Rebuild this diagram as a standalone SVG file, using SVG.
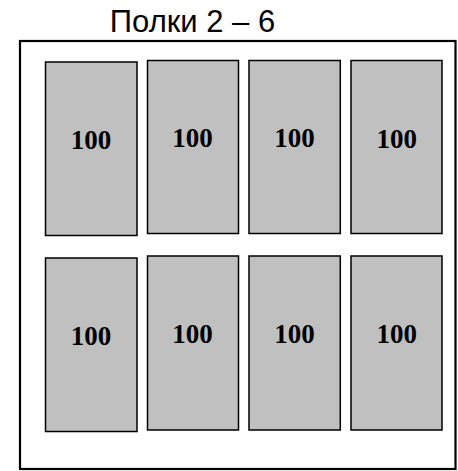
<svg xmlns="http://www.w3.org/2000/svg" width="458" height="471" viewBox="0 0 458 471">
<style>
.frame{fill:#fff;stroke:#000;stroke-width:2.2}
.box{fill:#c0c0c0;stroke:#000;stroke-width:1.5}
.num{font-family:"Liberation Serif",serif;font-weight:bold;font-size:27px;text-anchor:middle;fill:#000}
.title{font-family:"Liberation Sans",sans-serif;font-size:31px;text-anchor:middle;fill:#000}
</style>
<rect width="458" height="471" fill="#fff"/>
<text class="title" x="192.5" y="31.5">Полки 2 – 6</text>
<rect class="frame" x="20" y="41" width="435.5" height="428"/>
<g id="r1c1"><rect class="box" x="45.5" y="62" width="91.5" height="173.5"/><text class="num" x="91" y="148.5">100</text></g>
<g id="r1c2"><rect class="box" x="147.5" y="60.5" width="91" height="173"/><text class="num" x="192.5" y="147.3">100</text></g>
<g id="r1c3"><rect class="box" x="249" y="60.5" width="91.3" height="173"/><text class="num" x="294.5" y="146.7">100</text></g>
<g id="r1c4"><rect class="box" x="351" y="60.5" width="91" height="173"/><text class="num" x="396.7" y="148">100</text></g>
<g id="r2c1"><rect class="box" x="45.5" y="258" width="91.5" height="173.5"/><text class="num" x="91" y="345.3">100</text></g>
<g id="r2c2"><rect class="box" x="147.5" y="256" width="91" height="174"/><text class="num" x="192.5" y="342.7">100</text></g>
<g id="r2c3"><rect class="box" x="249" y="256" width="91.3" height="174"/><text class="num" x="294.5" y="342.7">100</text></g>
<g id="r2c4"><rect class="box" x="351" y="256" width="91" height="174"/><text class="num" x="396.7" y="342.7">100</text></g>
<g id="connectors"/>
</svg>
